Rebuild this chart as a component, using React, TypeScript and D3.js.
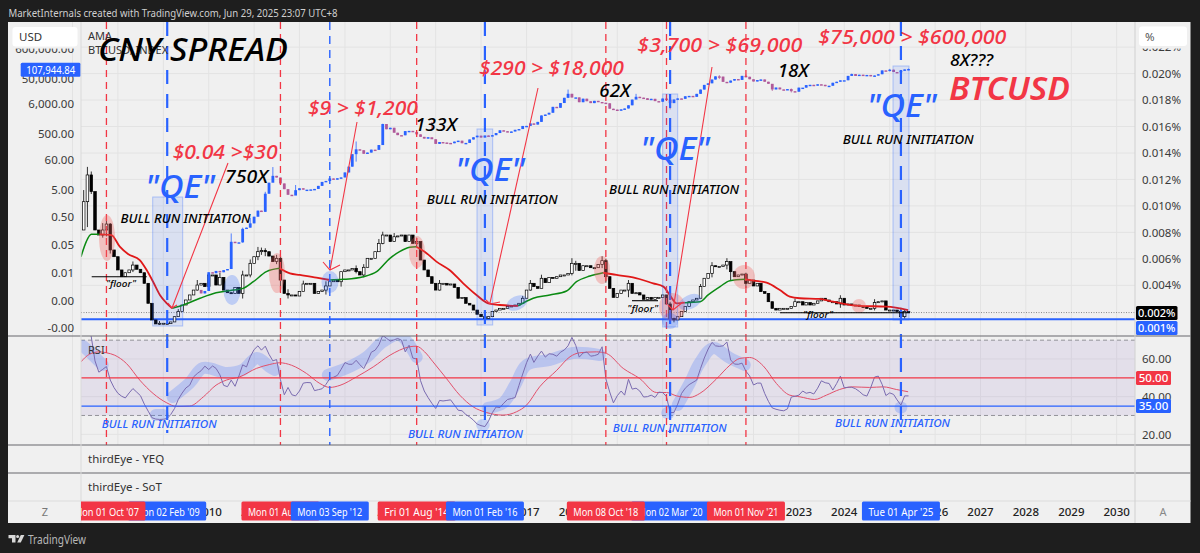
import React from "react";
import * as d3 from "d3";

// All month indices count from Oct 2007 (0). Spread values are in thousandths of a percent.
const spreadFirstMonth = -7;
const spreadClose = [8.18,10.32,12.34,11.08,8.18,7.8,8.18,8.63,6.67,6.16,5.16,4.65,4.95,5.16,5.53,5.21,4.95,4.15,2.64,1.38,1.08,1.13,1.13,1.1,1.23,1.63,2.01,2.51,2.89,3.27,3.64,4.02,4.15,3.9,4.78,4.78,4.02,4.6,3.64,3.44,3.39,3.84,3.39,4.78,4.78,5.66,6.16,6.54,6.62,6.54,6.21,5.79,6.04,4.4,3.39,3.27,3.27,3.19,3.52,4.1,4.15,4.15,3.39,3.52,3.64,3.95,4.27,4.4,4.27,5.03,5.16,5.16,5.28,5.03,4.78,5.36,6.04,6.04,6.54,7.17,7.8,7.8,7.3,7.67,7.73,7.8,7.3,7.8,7.17,7.3,5.91,5.16,4.65,4.15,3.64,4.15,4.15,4.02,4.1,3.84,3.02,3.07,2.64,2.51,2.13,1.81,1.63,1.5,1.63,2.01,2.13,2.26,2.26,2.39,2.44,2.51,2.64,3.02,3.64,4.15,3.9,3.77,4.53,4.2,4.6,4.53,4.65,4.78,4.78,4.9,5.66,5.66,5.11,5.48,5.48,5.33,5.33,5.58,5.86,4.65,3.77,3.09,3.39,3.64,3.64,4.15,3.39,3.44,3.27,2.94,3.09,2.94,3.09,3.09,3.27,2.59,1.5,1.38,1.63,2.01,2.39,2.76,2.89,3.02,3.9,4.53,4.9,5.48,5.41,5.41,5.53,5.79,5.03,4.65,4.78,4.85,4.15,4.4,3.95,4.15,3.52,3.39,2.76,2.26,2.13,2.26,2.26,2.26,2.39,2.76,2.76,2.51,2.69,2.51,2.64,2.82,3.02,2.89,2.76,2.76,2.59,3.02,2.51,2.59,2.51,2.51,2.39,2.34,2.26,2.26,2.69,2.76,2.82,2.13,2.13,2.13,2.01,1.63,2.01,1.94];
const spreadWickMonths = [-6,-5,-4,-1,0,1,7,14,19,24,30,36,38,40,41,42,45,46,48,52,58,62,66,68,72,73,76,82,88,100,110,112,115,123,124,131,132,138,149,150,157,160,164,165,169,182,194,203,210,211];
const spreadWickHigh = [11.2,12.95,12.6,8.7,9.1,8.7,5.8,1.3,2.2,4.4,4.95,5.1,5.95,6.9,6.85,6.8,6.3,6.35,3.7,4.35,4.3,4.7,5.5,5.6,7.5,8.05,7.95,7.6,4.4,1.75,3.2,4.4,4.8,6.05,5.85,6.2,6.0,4.4,2.75,1.55,4.1,5.75,6.05,5.35,4.95,3.0,3.25,2.95,2.3,2.2];
const spreadWickLow = [8.6,8.4,10.9,7.6,7.7,6.4,5.0,1.0,1.9,3.6,4.2,3.0,4.6,5.9,6.3,6.2,5.6,3.9,3.0,3.8,3.3,3.9,4.9,4.6,6.9,7.1,7.3,6.9,3.6,1.3,2.8,3.6,3.9,4.75,5.1,5.3,4.2,3.1,1.2,1.2,3.1,4.6,5.2,4.4,3.8,2.4,2.3,2.1,1.3,1.5];

const btcFirstMonth = 25;
const btcFirstOpen = 0.0012;
const btcClose = [0.0009,0.0011,0.0052,0.0048,0.0058,0.0052,0.0062,0.0068,0.065,0.06,0.062,0.19,0.21,0.30,0.52,0.86,0.78,3.5,8.7,15.4,13.4,8.2,5.1,3.2,3.0,4.7,5.5,4.9,4.9,5.0,5.2,6.7,9.3,10.1,12.4,11.2,12.6,13.5,20.4,33,93,139,129,96,106,135,133,198,1130,732,830,550,450,445,630,640,585,480,390,338,378,320,218,254,244,236,230,263,284,230,236,314,377,430,368,437,416,448,536,673,624,575,609,700,745,963,970,1190,1080,1350,2300,2480,2875,4700,4340,6450,9950,13860,10200,10300,6900,9240,7500,6400,7730,7030,6625,6320,4020,3740,3440,3820,4100,5350,8570,10800,10080,9600,8300,9150,7560,7190,9350,8520,6410,8620,9450,9140,11320,11650,10780,13800,19700,29000,33100,45200,58900,57700,37300,35000,41500,47100,43800,61300,57000,46300,38500,43200,45500,37700,31800,19900,23300,20000,19400,20500,17200,16500,23100,23100,28500,29200,27200,30500,29200,26000,27000,34600,37700,42300,42600,61200,71300,60700,67500,62700,66200,58900,63300,70300,96400,93400,102400,84300,82500,94200,104600,107944];
const btcWickMonths = [33,36,38,42,44,50,66,73,86,122,140,149,162,169,176,181,197,207,212];
const btcWickHigh = [0.13,0.21,0.47,4.1,31.9,7.2,266,1160,1350,19700,13800,9200,64800,69000,22000,21500,73800,109300,111900];
const btcWickLow = [0.05,0.06,0.21,0.77,9.6,4.3,50,200,740,9700,9300,3800,47000,53500,17600,15500,60700,89000,98200];

const amaMonths = [-6.7,-5.3,-4,-1.8,1.3,3.5,5.7,8.8,10.6,12.3,14.1,15.9,17.4,20.3,24.7,29,33.5,36.1,38.8,42.3,45.8,48.5,51.1,55.5,59,62.6,67.9,71.4,74.9,77.5,80.2,81.9,84.1,87.2,90.7,94.3,97.8,100.9,104,108.8,112.8,117.2,121.6,124.2,127.8,131.3,134.8,139.2,144.5,147.2,148.9,150.7,152.9,156.9,159,162.2,164.8,168.8,171,174.5,178,180.6,183.3,188.5,192.1,199.1,206.2,211.9];
const amaValues = [6.16,7.3,7.85,7.85,7.8,6.92,6.37,5.91,5.16,4.27,3.27,2.64,2.26,2.51,3.02,3.44,3.64,3.77,4.27,5.03,5.28,4.9,4.78,4.58,4.4,4.45,4.65,5.03,6.04,6.54,6.87,6.92,6.54,5.79,5.16,4.15,3.27,2.64,2.51,2.44,3.02,3.27,3.57,4.27,4.7,4.95,4.78,4.6,4.15,3.9,3.27,2.64,2.69,2.76,3.27,3.9,4.35,4.45,4.35,4.2,3.64,3.14,3.02,2.97,2.76,2.44,2.39,2.13];
const amaTurnMonths = [-1.8,17.4,45.8,59,81.9,108.8,131.3,152.9,168.8,212];

const rsiFirstMonth = -5;
const rsiValues = [78,71.8,59,53,54.5,56,48.8,44.8,41.8,40.2,39.3,42,44.3,42.4,40.5,36,32.3,28.8,28.1,27.9,28,28.4,30.5,33.7,38.5,41.9,44.6,46.1,50.5,52.3,53.8,56.2,54.4,56.3,55,51.6,46,45.3,48.8,45.5,51,56.9,55.8,61.2,65,67,64.7,66.8,62.5,59,59.7,49,41,44.9,41,40.4,43,47.2,47.5,47.4,43.2,43.7,44.2,46.5,49.6,50.3,51.3,54.5,58.1,57.2,57.2,59.3,57,54.9,58.8,63.6,64.7,67.5,72.5,71,69.5,70.2,70.9,70,63.8,67.3,60.5,60,48.5,43,39.5,36.5,33.7,38,37.7,38,38.3,35.5,32.8,32.5,30.5,29.2,27.5,25.4,24.6,24.1,27,31.5,34.5,34.2,36.5,38.5,39,39.5,46,52,58,62.6,58.2,61.5,64.2,61,62.8,62.5,61.5,63.6,64.8,67,71.5,67.2,61,63.2,63.7,61.5,61.8,62.5,66.5,49.5,42.5,36.7,40.5,43,40.8,49.2,44,44.5,43,39.8,40,40.8,39.6,42.4,42.2,40,31.5,31.6,36,41.7,44.5,46.4,47.6,48.8,55,60.5,65.3,68.8,67,66.7,67,69,59.5,57.3,57.2,57.8,53.5,51,46.2,47.2,47.2,41.7,37.5,34,33.3,32.8,32.5,33.5,39.8,40.2,40.8,43,41.8,42.3,41.4,44.5,48.4,47.4,47,43.5,47,50.9,44.7,45,45,44.2,42.8,41,40.3,44.8,50.4,50.9,46.5,40.6,42,41.2,38.3,35.5,40.4,40.4];
const rsiMaMonths = [-6.7,-4.4,-1.8,0,2.2,5.3,8.8,12.3,15.9,18.5,22,25.6,29,31.7,35.2,39.6,43.2,45.8,48.9,52.9,56.4,59,61.7,66.1,70.5,74.9,77.5,80.2,81.9,84.1,86.3,89.9,93.4,96.9,100.4,104.8,108.4,111,114.5,119,122.5,125.1,129.5,132.2,136.6,141,145.4,148,150.7,154.2,156.8,161.2,164.8,167.4,170,173.6,177.1,180.6,183.3,187.2,190.3,193.8,197.3,201.7,205.3,208.8,211.9];
const rsiMaValues = [58.5,62.6,63.8,63.3,62,57.6,48.8,41.7,36.7,34.8,35,39.9,46.1,48.8,50.5,55,57.1,58,56.7,52.3,47,44.9,46,50.5,55.8,62,64.7,66.5,66.8,63.8,58.5,49.6,40.8,34.6,31.6,30.2,32,35.5,45.2,54,61.2,63.3,63.8,62.9,55,49.6,42.2,42.2,40.4,39.6,41.7,49.3,56.7,60.3,60.8,56.4,47,40.8,39.9,38.5,40.8,43.8,45.2,44.9,45.2,43.8,42.6];

// hand-drawn highlight strokes over the RSI: [month, rsi]
const rsiHighlights: [number, number][][] = [
  [[-6.2,66.9],[-4.4,63.7],[-1,56.8]],
  [[13,30.3],[14.9,30.3]],
  [[17.5,39.8],[22,47.3],[25.5,55.2],[31.8,52.6],[36,54.2],[39.7,60.5],[43.2,55.8],[44.5,54.2]],
  [[58.5,51.5],[63.5,55.2],[68.8,61],[73,69],[77.5,72.7],[82,61]],
  [[99.3,24.9],[99.7,24.9]],
  [[100.8,34],[104.8,36.6],[108,46.2],[111,56.8],[117.2,59.5],[123.3,63.2],[130.4,62.1]],
  [[148.2,31.3],[148.6,31.3]],
  [[151,35.6],[154.2,47.3],[156.8,57.9],[160.3,65.8],[164.8,60.5],[168.7,56.8]],
  [[209.9,34.2],[210.1,34.2]],
];

const leftTickValues = [600000,50000,6000,500,60,5,0.5,0.05,0.005,0.0005,0.00005];
const leftTickLabels = ["600,000.00","50,000.00","6,000.00","500.00","60.00","5.00","0.50","0.05","0.01","0.00","-0.00"];
const rightTickValues = [22,20,18,16,14,12,10,8,6,4];
const rsiTickValues = [60,40,20];

const redLines = [[2007,9],[2011,7],[2014,7],[2018,9],[2020,1],[2021,10]];
const blueLines = [[2009,1,2.2],[2012,8,1.4],[2016,1,2.2],[2020,2,2.2],[2025,3,2.2]];

// name, year, month, colour: in the order the tags overlap
const dateTags: [string, number, number, string][] = [
  ["Mon 02 Feb '09",2009,1,"b"],["Mon 01 Oct '07",2007,9,"r"],["Mon 01 Aug '11",2011,7,"r"],["Mon 03 Sep '12",2012,8,"b"],
  ["Fri 01 Aug '14",2014,7,"r"],["Mon 01 Feb '16",2016,1,"b"],["Mon 02 Mar '20",2020,2,"b"],["Mon 08 Oct '18",2018,9,"r"],
  ["Mon 01 Nov '21",2021,10,"r"],["Tue 01 Apr '25",2025,3,"b"],
];

const RED = "#f23645", BLUE = "#2962ff";
const UI = "'Noto Sans', sans-serif";
const HAND = "'Noto Sans', sans-serif";

const L = 81, R = 1135, TOP = 22, PANE1 = 336, PANE2 = 445, PANE3 = 473, PANE4 = 501, BOT = 523;

const x = d3.scaleTime().domain([new Date(2007,0,1), new Date(2030,0,1)]).range([72.5,1116.7]);
const mx = (m: number) => {
  const base = d3.timeMonth.offset(new Date(2007,9,1), Math.floor(m));
  const next = d3.timeMonth.offset(base, 1);
  return x(base) + (x(next)-x(base))*(m-Math.floor(m));
};
const yPct = d3.scaleLinear().domain([2,20]).range([311.76,73.6]);
const yLog = d3.scaleLog().domain([1e-4,1e6]).range([319.9,42.2]);
const yRsi = d3.scaleLinear().domain([20,60]).range([434.3,359]);

const yearTicks = x.ticks(d3.timeYear.every(1) as any);
const tagHalf = 39, yearHalf = 13;
const visibleYears = yearTicks.filter(d=>d.getFullYear()>=2008 && !dateTags.some(([,yr,mo])=>{
  const c = x(new Date(yr,mo,1));
  return x(d)-yearHalf>=c-tagHalf && x(d)+yearHalf<=c+tagHalf;
}));
const rsiLine = d3.line<number>().x((_,i)=>mx(i+rsiFirstMonth)).y(d=>yRsi(d)).curve(d3.curveLinear);
const rsiMaLine = d3.line<number>().x((_,i)=>mx(rsiMaMonths[i])).y(d=>yRsi(d)).curve(d3.curveMonotoneX);
const highlightLine = d3.line<[number,number]>().x(d=>mx(d[0])).y(d=>yRsi(d[1])).curve(d3.curveCatmullRom);

const amaSegments = amaTurnMonths.slice(1).map((end,i)=>{
  const start = amaTurnMonths[i];
  const idx = amaMonths.map((m,k)=>k).filter(k=>amaMonths[k]>=start && amaMonths[k]<=end);
  return {rising: i%2===1, idx};
});
const amaFirst = amaMonths.map((m,k)=>k).filter(k=>amaMonths[k]<=-1.8);
const amaLine = d3.line<number>().x(k=>mx(amaMonths[k])).y(k=>yPct(amaValues[k])).curve(d3.curveMonotoneX);

const Note = ({t,px,py,w,size,fill="#000",weight=500}:{t:string,px:number,py:number,w:number,size:number,fill?:string,weight?:number}) => (
  <text x={px} y={py} fontFamily={HAND} fontStyle="italic" fontWeight={weight} fontSize={size} fill={fill} textLength={w} lengthAdjust="spacingAndGlyphs">{t}</text>
);

export default function App() {
  const spreadCandles = spreadClose.slice(1).map((c,i)=>{
    const m = i+1+spreadFirstMonth, o = spreadClose[i];
    const k = spreadWickMonths.indexOf(m);
    return {m,o,c,h:k>=0?spreadWickHigh[k]:Math.max(o,c),l:k>=0?spreadWickLow[k]:Math.min(o,c)};
  });
  const btcCandles = btcClose.map((c,i)=>{
    const m = i+btcFirstMonth, o = i?btcClose[i-1]:btcFirstOpen;
    const k = btcWickMonths.indexOf(m);
    return {m,o,c,h:k>=0?btcWickHigh[k]:Math.max(o,c),l:k>=0?btcWickLow[k]:Math.min(o,c)};
  });
  return (
    <svg width={1200} height={553} style={{position:"absolute",left:0,top:0,display:"block"}} fontFamily={UI}>
      <defs>
        <clipPath id="main"><rect x={L} y={TOP} width={R-L} height={PANE1-TOP}/></clipPath>
        <clipPath id="rsi"><rect x={L} y={PANE1} width={R-L} height={PANE2-PANE1}/></clipPath>
        <clipPath id="tags"><rect x={L} y={PANE4} width={R-L} height={BOT-PANE4}/></clipPath>
      </defs>
      <rect width={1200} height={553} fill="#1e1e1e"/>
      <rect x={8} y={TOP} width={1182.5} height={BOT-TOP} fill="#f0f0f0"/>

      {/* grid */}
      {yearTicks.map((d,i)=><line key={i} x1={x(d)} x2={x(d)} y1={TOP} y2={PANE2} stroke="#e3e3e3" strokeWidth={1}/>)}
      {rightTickValues.map(v=><line key={v} x1={L} x2={R} y1={yPct(v)} y2={yPct(v)} stroke="#e3e3e3" strokeWidth={1}/>)}
      {rsiTickValues.map(v=><line key={v} x1={L} x2={R} y1={yRsi(v)} y2={yRsi(v)} stroke="#e3e3e3" strokeWidth={1}/>)}

      {/* RSI pane */}
      <rect x={L} y={yRsi(70)} width={R-L} height={yRsi(30)-yRsi(70)} fill="#7e57c2" fillOpacity={0.11}/>
      {[70,30].map(v=><line key={v} x1={L} x2={R} y1={yRsi(v)} y2={yRsi(v)} stroke="#8a8a90" strokeDasharray="4 3" strokeWidth={0.9}/>)}
      <g clipPath="url(#rsi)">
        <g fill="none" stroke={BLUE} strokeOpacity={0.22} strokeWidth={12} strokeLinecap="round" strokeLinejoin="round">
          {rsiHighlights.map((h,i)=><path key={i} d={highlightLine(h) as string}/>)}
        </g>
        <path d={rsiMaLine(rsiMaValues) as string} fill="none" stroke="#e2506a" strokeWidth={1}/>
        <path d={rsiLine(rsiValues) as string} fill="none" stroke="#7a6bb0" strokeWidth={1}/>
      </g>
      <line x1={L} x2={R} y1={yRsi(50)} y2={yRsi(50)} stroke={RED} strokeWidth={1.2}/>
      <line x1={L} x2={R} y1={yRsi(35)} y2={yRsi(35)} stroke={BLUE} strokeWidth={1.2}/>

      {/* main pane */}
      <g clipPath="url(#main)">
        <line x1={L} x2={R} y1={yPct(1.94)} y2={yPct(1.94)} stroke="#8a8a8a" strokeDasharray="1 1.5" strokeWidth={1}/>
        <line x1={L} x2={R} y1={yPct(1.43)} y2={yPct(1.43)} stroke={BLUE} strokeWidth={2}/>
        {spreadCandles.map(k=>{
          const cx = mx(k.m), up = k.c>=k.o, y0 = yPct(Math.max(k.o,k.c)), y1 = yPct(Math.min(k.o,k.c));
          return <g key={k.m}>
            <line x1={cx} x2={cx} y1={yPct(k.h)} y2={yPct(k.l)} stroke="#000" strokeWidth={0.8}/>
            <rect x={cx-1.3} y={y0} width={2.6} height={Math.max(y1-y0,1)} fill={up?"#fff":"#000"} stroke="#000" strokeWidth={0.7}/>
          </g>;
        })}
        {btcCandles.map(k=>{
          const cx = mx(k.m), up = k.c>=k.o, col = up?BLUE:"#b05a9a", y0 = yLog(Math.max(k.o,k.c)), y1 = yLog(Math.min(k.o,k.c));
          return <g key={k.m}>
            <line x1={cx} x2={cx} y1={yLog(k.h)} y2={yLog(k.l)} stroke={col} strokeWidth={0.8}/>
            <rect x={cx-1.4} y={y0} width={2.8} height={Math.max(y1-y0,1.4)} fill={col}/>
          </g>;
        })}
        <path d={amaLine(amaFirst) as string} fill="none" stroke="#0a8a12" strokeWidth={1.5}/>
        {amaSegments.map((s,i)=><path key={i} d={amaLine(s.idx) as string} fill="none" stroke={s.rising?"#0a8a12":"#e01818"} strokeWidth={s.rising?1.5:1.8}/>)}
      </g>

      {/* vertical event lines */}
      {redLines.map(([yr,mo],i)=>{const px=x(new Date(yr,mo,1));return <line key={i} x1={px} x2={px} y1={TOP} y2={PANE2} stroke={RED} strokeWidth={1.3} strokeDasharray="7 5"/>;})}
      {blueLines.map(([yr,mo,w],i)=>{const px=x(new Date(yr,mo,1));return <line key={i} x1={px} x2={px} y1={TOP} y2={w>2?433:PANE2} stroke={BLUE} strokeWidth={w} strokeDasharray={w>2?"14 10":"8 6"}/>;})}

      {/* highlights */}
      <g clipPath="url(#main)">
        {[[107,238,8,23],[277,273,8,20],[417,252,8,16],[602,270,8,14],[672,307,13,14],[744,277,11,12],[859,306,7,7]].map(([a,b,c,d],i)=><ellipse key={i} cx={a} cy={b} rx={c} ry={d} fill="#f0605f" fillOpacity={0.33}/>)}
        {[[232,290,8.5,15,0],[330,282,8.5,11,0],[517,303,11,7,-25],[690,302,12,7,-25],[670,321,8,8,0]].map(([a,b,c,d,r],i)=><ellipse key={i} cx={a} cy={b} rx={c} ry={d} fill={BLUE} fillOpacity={0.25} transform={`rotate(${r} ${a} ${b})`}/>)}
        {[[152.7,197,30,129],[477,129,15.7,196],[662.7,94,15,233],[893,66,16,254]].map(([a,b,c,d],i)=><rect key={i} x={a} y={b} width={c} height={d} fill={BLUE} fillOpacity={0.11} stroke={BLUE} strokeOpacity={0.32} strokeWidth={1}/>)}
        <g stroke="#000" strokeWidth={1.1}>
          <line x1={91.7} x2={146.7} y1={276.7} y2={276.7}/>
          <line x1={632} x2={658} y1={300.7} y2={300.7}/>
          <line x1={780} x2={910} y1={312.7} y2={312.7}/>
        </g>
        <g stroke={RED} strokeWidth={1.1} fill="none">
          <path d="M172 308L228 163M168 303L172 308L177 305"/>
          <path d="M330 270L357 122M323 262L330 270L340 265"/>
          <path d="M490 303L538 88M486 300L490 304L500 302"/>
          <path d="M673 310L712 67M668 305L673 310L683 302"/>
        </g>
      </g>

      {/* left / right axes */}
      {leftTickValues.map((v,i)=><text key={v} x={74} y={yLog(v)+4.2} textAnchor="end" fontSize={11.5} fill="#3a3a3a">{leftTickLabels[i]}</text>)}
      {rightTickValues.map(v=><text key={v} x={1142} y={yPct(v)+4.2} fontSize={11.5} fill="#3a3a3a">{(v/1000).toFixed(3)}%</text>)}
      {rsiTickValues.map(v=><text key={v} x={1142} y={yRsi(v)+4.4} fontSize={11.5} fill="#3a3a3a">{v.toFixed(2)}</text>)}
      <rect x={10} y={40} width={70} height={8.6} fill="#f0f0f0"/>
      <rect x={1138} y={40} width={50} height={8.6} fill="#f0f0f0"/>
      <rect x={12.5} y={27} width={65} height={19.5} rx={3} fill="#fff"/>
      <text x={19} y={40.5} fontSize={11.5} fill="#333">USD</text>
      <rect x={1139} y={26.5} width={48} height={19.5} rx={3} fill="#fff"/>
      <text x={1145} y={40.5} fontSize={11.5} fill="#555">%</text>
      <rect x={20.7} y={62.7} width={60} height={14} rx={1.5} fill={BLUE}/>
      <text x={50.7} y={73.8} textAnchor="middle" fontSize={11} fill="#fff" textLength={49} lengthAdjust="spacingAndGlyphs">107,944.84</text>
      <rect x={1136} y={306} width={41.5} height={14} rx={1.5} fill="#000"/>
      <text x={1156.7} y={317.2} textAnchor="middle" fontSize={11} fontWeight={500} fill="#fff">0.002%</text>
      <rect x={1136} y={321} width={41.5} height={14} rx={1.5} fill={BLUE}/>
      <text x={1156.7} y={332.2} textAnchor="middle" fontSize={11} fontWeight={500} fill="#fff">0.001%</text>
      <rect x={1136} y={371} width={35} height={14} rx={1.5} fill={RED}/>
      <text x={1153.5} y={382.4} textAnchor="middle" fontSize={11.5} fontWeight={500} fill="#fff">50.00</text>
      <rect x={1136} y={399} width={35} height={14} rx={1.5} fill={BLUE}/>
      <text x={1153.5} y={410.4} textAnchor="middle" fontSize={11.5} fontWeight={500} fill="#fff">35.00</text>

      {/* pane separators */}
      {[PANE1,PANE2,PANE3].map(v=><line key={v} x1={8} x2={1190.5} y1={v} y2={v} stroke="#66666c" strokeWidth={1}/>)}
      <line x1={8} x2={1190.5} y1={PANE4} y2={PANE4} stroke="#dcdcdc" strokeWidth={1}/>
      <line x1={L} x2={L} y1={TOP} y2={BOT} stroke="#dadada" strokeWidth={1}/>
      <line x1={R} x2={R} y1={TOP} y2={BOT} stroke="#d0d0d0" strokeWidth={1}/>

      {/* pane titles */}
      <text x={88} y={40} fontSize={11} fill="#333">AMA</text>
      <text x={88} y={54} fontSize={11} fill="#333">BTCUSD, INDEX</text>
      <text x={88} y={354} fontSize={11} fill="#333">RSI</text>
      <text x={88} y={462.5} fontSize={11.5} fill="#333">thirdEye - YEQ</text>
      <text x={88} y={491} fontSize={11.5} fill="#333">thirdEye - SoT</text>

      {/* time axis */}
      <text x={45} y={516} textAnchor="middle" fontSize={11} fill="#777">Z</text>
      <text x={1163} y={516} textAnchor="middle" fontSize={11} fill="#888">A</text>
      <g clipPath="url(#tags)">
        {visibleYears.map((d,i)=><text key={i} x={x(d)} y={516} textAnchor="middle" fontSize={11.5} fontWeight={500} fill="#222">{d3.timeFormat("%Y")(d)}</text>)}
        {dateTags.map(([t,yr,mo,c])=>{const px=x(new Date(yr,mo,1));return <g key={t}>
          <rect x={px-tagHalf} y={501.5} width={tagHalf*2} height={19} rx={1.5} fill={c==="r"?RED:BLUE}/>
          <text x={px-32.5} y={515.5} fontSize={11} fill="#fff" textLength={65} lengthAdjust="spacingAndGlyphs">{t}</text>
        </g>;})}
      </g>

      {/* annotations */}
      <Note t="CNY SPREAD" px={98} py={61} w={190} size={33}/>
      <Note t="$0.04 >$30" px={172.7} py={159} w={105} size={20} fill={RED}/>
      <Note t={'"QE"'} px={145} py={198} w={70} size={33} fill={BLUE}/>
      <Note t="750X" px={225} py={183} w={43} size={18}/>
      <Note t="BULL RUN INITIATION" px={120.6} py={223} w={130} size={12}/>
      <Note t={'"floor"'} px={106} py={287} w={30} size={9.5}/>
      <Note t="$9 > $1,200" px={308} py={115} w={110} size={19} fill={RED}/>
      <Note t="133X" px={415} py={131} w={42} size={18}/>
      <Note t={'"QE"'} px={455} py={181} w={70} size={33} fill={BLUE}/>
      <Note t="BULL RUN INITIATION" px={426.7} py={204} w={131} size={12}/>
      <Note t="$290 > $18,000" px={479} py={75} w={145} size={19} fill={RED}/>
      <Note t="62X" px={599.3} py={97} w={31} size={18}/>
      <Note t={'"QE"'} px={640} py={160} w={70} size={33} fill={BLUE}/>
      <Note t="BULL RUN INITIATION" px={609} py={194} w={130} size={12}/>
      <Note t={'"floor"'} px={627.3} py={312} w={31} size={9.5}/>
      <Note t="$3,700 > $69,000" px={637.3} py={52} w={165} size={19} fill={RED}/>
      <Note t="18X" px={777.7} py={77} w={31} size={18}/>
      <Note t="$75,000 > $600,000" px={818.3} py={44} w={188} size={19} fill={RED}/>
      <Note t="8X???" px={950} py={65.7} w={43} size={17}/>
      <text x={949} y={100} fontFamily={HAND} fontStyle="italic" fontWeight={600} fontSize={33} fill={RED} textLength={121} lengthAdjust="spacingAndGlyphs">BTCUSD</text>
      <Note t={'"QE"'} px={866.7} py={117} w={70} size={33} fill={BLUE}/>
      <Note t="BULL RUN INITIATION" px={842.7} py={143.5} w={131} size={12}/>
      <Note t={'"floor"'} px={803} py={318} w={30} size={9.5}/>
      <Note t="BULL RUN INITIATION" px={101.7} py={428} w={115} size={11.5} fill={BLUE}/>
      <Note t="BULL RUN INITIATION" px={408} py={438} w={115} size={11.5} fill={BLUE}/>
      <Note t="BULL RUN INITIATION" px={612.7} py={431.7} w={114} size={11.5} fill={BLUE}/>
      <Note t="BULL RUN INITIATION" px={835} py={426.7} w={115} size={11.5} fill={BLUE}/>

      {/* header and footer */}
      <text x={8.5} y={17} fontSize={11.2} fill="#cfcfcf" textLength={329} lengthAdjust="spacingAndGlyphs">MarketInternals created with TradingView.com, Jun 29, 2025 23:07 UTC+8</text>
      <g fill="#d8d8d8">
        <path d="M8.5 535h7v7.5h-3.5v-4.2h-3.5z"/>
        <circle cx={17.6} cy={536.6} r={1.5}/>
        <path d="M20.8 535h3.6l-3.6 7.5h-3.6z"/>
      </g>
      <text x={28} y={543.5} fontSize={12.5} fill="#b8b8b8" textLength={58} lengthAdjust="spacingAndGlyphs">TradingView</text>
    </svg>
  );
}
